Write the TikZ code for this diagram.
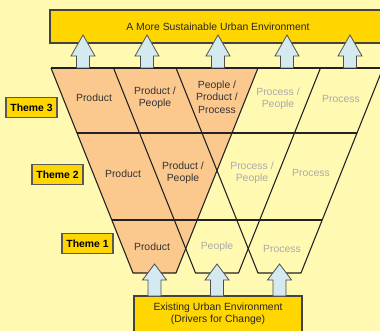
\documentclass[tikz,border=0pt]{standalone}
\usepackage{fontspec}
\setmainfont{Liberation Sans}
\definecolor{bgyel}{RGB}{255,249,178}
\definecolor{boxyel}{RGB}{255,214,0}
\definecolor{orng}{RGB}{251,200,142}
\definecolor{arrblue}{RGB}{212,234,240}
\definecolor{linec}{RGB}{34,34,34}
\definecolor{txtdark}{RGB}{51,51,51}
\definecolor{txtgray}{RGB}{170,170,170}
\newcommand\blockarr[4]{%
  \filldraw[arrstyle] ({#1-6.5},#4) -- ({#1-6.5},#3) -- ({#1-12},#3) -- (#1,#2) -- ({#1+12},#3) -- ({#1+6.5},#3) -- ({#1+6.5},#4) -- cycle;}
\begin{document}
\begin{tikzpicture}[x=1pt,y=-1pt,
  funnel/.style={draw=linec,line width=1.1pt,line join=round},
  arrstyle/.style={fill=arrblue,draw=linec!80,line width=0.8pt,line join=miter},
  bigbox/.style={fill=boxyel,draw=linec!85,line width=1.2pt},
  themebox/.style={fill=boxyel,draw=linec!75,line width=1.1pt,inner sep=0pt,minimum width=51pt,minimum height=19.5pt,font=\fontsize{10.4}{12.3}\selectfont\bfseries,text=black},
  dk/.style={text=txtdark,align=center,inner sep=0pt,font=\fontsize{10.4}{12.3}\selectfont},
  gy/.style={text=txtgray,align=center,inner sep=0pt,font=\fontsize{10.4}{12.3}\selectfont}]
\clip (0,0) rectangle (380,331);
\fill[bgyel] (0,0) rectangle (380,331);
% top box
\draw[bigbox] (50,10) rectangle (395,43);
\node[dk,text=black!85] (goal) at (218,27) {A More Sustainable Urban Environment};
% bottom box
\draw[bigbox] (134,296) rectangle (302,345);
\node[dk,text=black!85] (exist) at (218,313.5) {Existing Urban Environment\\(Drivers for Change)};
% product funnel fill
\fill[orng] (51,68) -- (258,68) -- (176,273) -- (133,273) -- cycle;
% funnels
\draw[funnel] (51,68) -- (133,273) -- (176,273) -- (258,68);
\draw[funnel] (113.5,68) -- (195.5,273) -- (238.5,273) -- (320.5,68);
\draw[funnel] (176,68) -- (258,273) -- (301,273) -- (383,68);
\draw[funnel] (51,68) -- (390,68);
\draw[funnel] (77,133) -- (357,133);
\draw[funnel] (111.8,220) -- (322.2,220);
% arrows
\blockarr{83}{35}{56}{68}
\blockarr{147}{35}{56}{68}
\blockarr{218}{35}{56}{68}
\blockarr{287}{35}{56}{68}
\blockarr{350}{35}{56}{68}
\blockarr{154.5}{264}{280}{296}
\blockarr{217}{264}{280}{296}
\blockarr{279.5}{264}{280}{296}
% theme labels
\node[themebox] (t3) at (31.5,107.5) {Theme 3};
\node[themebox] (t2) at (57.5,174.5) {Theme 2};
\node[themebox] (t1) at (87.5,243.5) {Theme 1};
% theme 3 row
\node[dk] (a1) at (94,98) {Product};
\node[dk] (a2) at (155,98) {Product /\\People};
\node[dk] (a3) at (217,97) {People /\\Product /\\Process};
\node[gy] (a4) at (278,99) {Process /\\People};
\node[gy] (a5) at (341,99) {Process};
% theme 2 row
\node[dk] (b1) at (123,174) {Product};
\node[dk] (b2) at (183,172.5) {Product /\\People};
\node[gy] (b3) at (252,173) {Process /\\People};
\node[gy] (b4) at (311,173) {Process};
% theme 1 row
\node[dk] (c1) at (152,247) {Product};
\node[gy] (c2) at (217,247) {People};
\node[gy] (c3) at (282,249) {Process};
\end{tikzpicture}
\end{document}
